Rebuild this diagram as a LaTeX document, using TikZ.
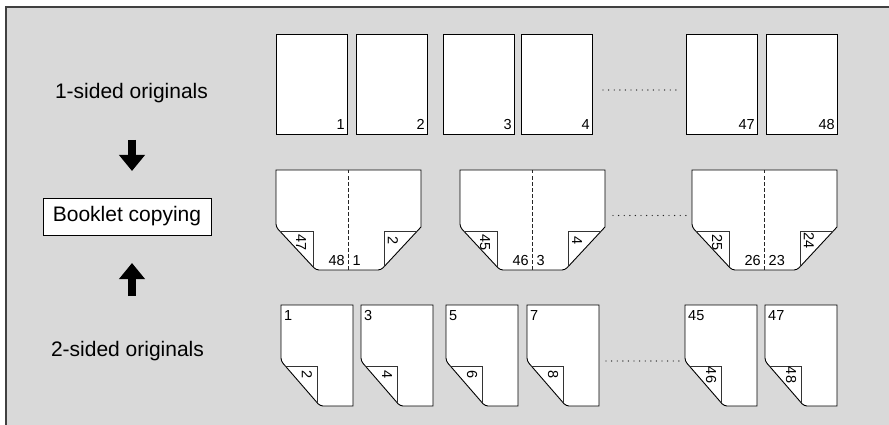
\documentclass[tikz,border=0pt]{standalone}
\usepackage{fontspec}
\setmainfont{Liberation Sans}
\usetikzlibrary{arrows.meta}
\definecolor{bggray}{HTML}{D9D9D9}
\definecolor{framegray}{HTML}{404040}
\tikzset{
  pagebox/.style={draw=black, fill=white, line width=0.9pt, inner sep=0pt, outer sep=0pt},
  pageline/.style={draw=black, fill=white, line width=0.9pt},
  flapline/.style={draw=black!80, line width=0.8pt},
  foldline/.style={draw=black!85, line width=0.9pt, dash pattern=on 3.5pt off 2.5pt},
  pnum/.style={inner sep=0pt, font=\fontsize{14.5}{16}\selectfont},
  biglabel/.style={inner sep=0pt, font=\fontsize{21}{25}\selectfont},
  dotrow/.style={draw=black!85, line width=1.4pt, line cap=round, dash pattern=on 0pt off 5.6pt},
  blockarrow/.style={line width=8pt, -{Triangle[width=25pt,length=16pt]}},
}
\newcommand{\plainpage}[3]{%
  \node[pagebox, minimum width=71pt, minimum height=100pt, anchor=north west] (#3) at (#1,34) {};
  \node[pnum, anchor=base east] (#3n) at ({#1+69},130) {#2};
}
\newcommand{\bookletpage}[6]{%
  \draw[pageline] (#1,170) -- ({#1+145},170) -- ({#1+145},227) [rounded corners=3pt] -- ({#1+105},270) -- ({#1+40},270) -- (#1,227) [sharp corners] -- cycle;
  \draw[flapline] ({#1+3.7},231) -- ({#1+37},231) -- ({#1+37},266.8);
  \draw[flapline] ({#1+141.3},231) -- ({#1+108},231) -- ({#1+108},266.8);
  \draw[foldline] ({#1+72.5},170) -- ({#1+72.5},270);
  \node[pnum, rotate=-90] (#6a) at ({#1+25},243) {#2};
  \node[pnum, anchor=base east] (#6b) at ({#1+69},265) {#3};
  \node[pnum, anchor=base west] (#6c) at ({#1+76.5},265) {#4};
  \node[pnum, rotate=-90] (#6d) at ({#1+117},241) {#5};
}
\newcommand{\twosidepage}[4]{%
  \draw[pageline] (#1,305) -- ({#1+72},305) -- ({#1+72},406) [rounded corners=3pt] -- ({#1+39},406) -- (#1,361) [sharp corners] -- cycle;
  \draw[flapline] ({#1+4.3},366) -- ({#1+36},366) -- ({#1+36},402.5);
  \node[pnum, anchor=base west] (#4a) at ({#1+3},320) {#2};
  \node[pnum, rotate=-90] (#4b) at ({#1+26},375) {#3};
}
\begin{document}
\begin{tikzpicture}[x=1pt,y=-1pt]
\useasboundingbox (0,0) rectangle (889,425);
\fill[bggray] (6,7) rectangle (889,425);
\draw[framegray, line width=2pt] (6,425) -- (6,7) -- (889,7);

% left column
\node[biglabel] (one) at (131.5,93) {1-sided originals};
\node[draw=black, fill=white, line width=0.9pt, minimum width=168pt, minimum height=37pt, inner sep=0pt, font=\fontsize{21}{25}\selectfont] (bk) at (127,216.5) {Booklet copying};
\node[biglabel] (two) at (127.5,351) {2-sided originals};
\coordinate (d1) at (132,140);
\coordinate (d2) at (132,171);
\draw[blockarrow] (d1) -- (d2);
\coordinate (u1) at (132,296);
\coordinate (u2) at (132,263);
\draw[blockarrow] (u1) -- (u2);

% 1-sided originals
\plainpage{276}{1}{pa}
\plainpage{356}{2}{pb}
\plainpage{443}{3}{pc}
\plainpage{521}{4}{pd}
\plainpage{686}{47}{pe}
\plainpage{766}{48}{pf}
\coordinate (ta) at (603,90);
\coordinate (tb) at (676,90);
\draw[dotrow] (ta) -- (tb);

% booklets
\bookletpage{276}{47}{48}{1}{2}{ba}
\bookletpage{460}{45}{46}{3}{4}{bb}
\bookletpage{692}{25}{26}{23}{24}{bc}
\coordinate (ma) at (613,215.5);
\coordinate (mb) at (686,215.5);
\draw[dotrow] (ma) -- (mb);

% 2-sided originals
\twosidepage{281}{1}{2}{sa}
\twosidepage{361}{3}{4}{sb}
\twosidepage{446}{5}{6}{sc}
\twosidepage{527}{7}{8}{sd}
\twosidepage{685}{45}{46}{se}
\twosidepage{765}{47}{48}{sf}
\coordinate (la) at (606,361);
\coordinate (lb) at (680,361);
\draw[dotrow] (la) -- (lb);
\end{tikzpicture}
\end{document}
